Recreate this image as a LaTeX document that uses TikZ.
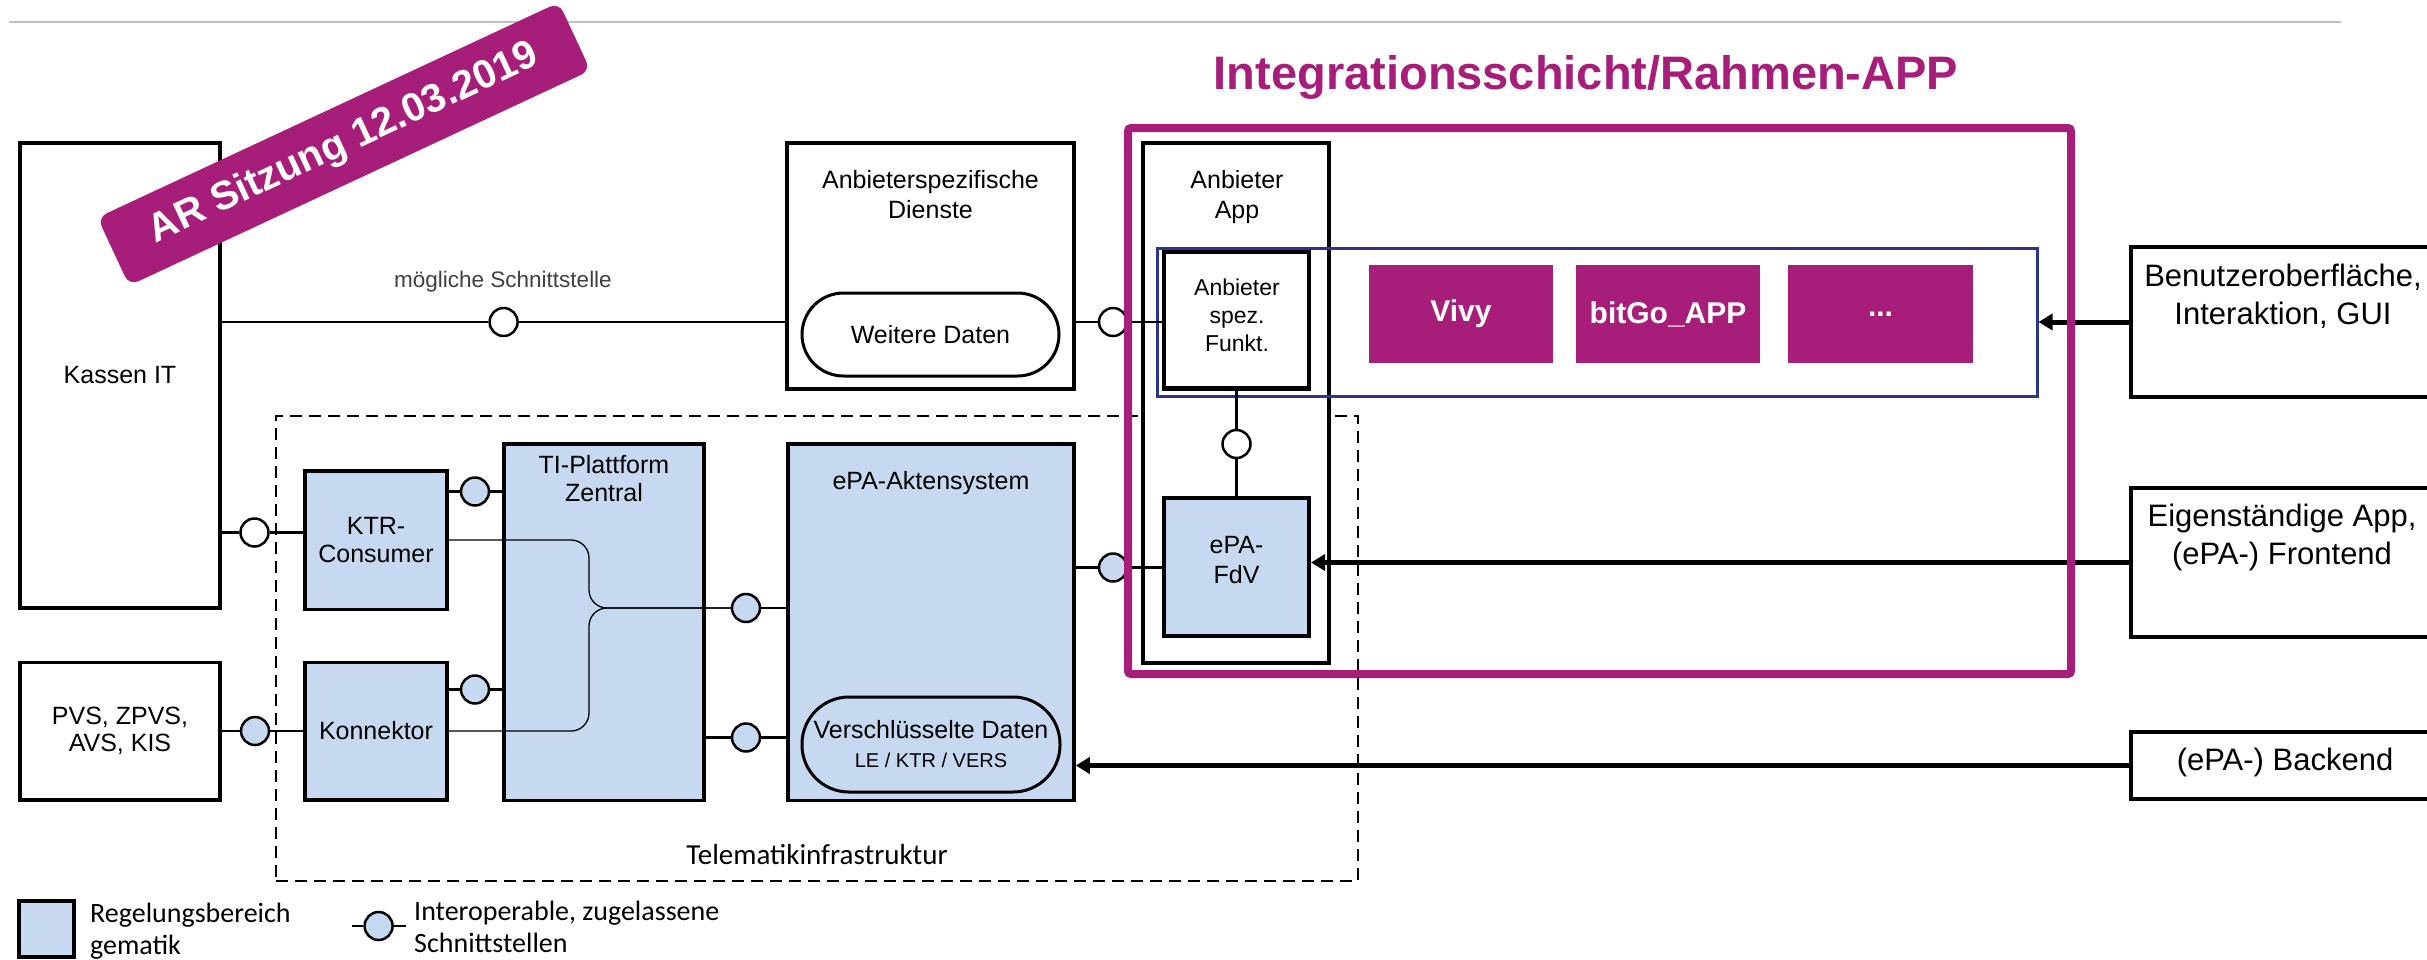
\documentclass[tikz,border=0pt]{standalone}
\usepackage{fontspec}
\setmainfont{Liberation Sans}
\newfontfamily\calib{Carlito}
\usetikzlibrary{arrows.meta}
\definecolor{gblue}{RGB}{198,217,240}
\definecolor{mag}{RGB}{166,30,122}
\definecolor{dblue}{RGB}{43,52,145}
\newcommand\fsz[2]{\fontsize{#1}{#2}\selectfont}
\tikzset{
 box/.style={draw, line width=3.5pt, fill=white, inner sep=0pt, align=center, font=\fsz{25}{30}},
 gbox/.style={box, fill=gblue},
 lbl/.style={align=center, inner sep=0pt, font=\fsz{25}{30}},
 iface/.style={circle, draw, line width=2.5pt, fill=white, minimum size=28pt, inner sep=0pt},
 giface/.style={iface, fill=gblue},
 conn/.style={line width=2.5pt},
 thinconn/.style={line width=1.3pt},
 arr/.style={line width=5pt, -{Triangle[length=14pt,width=16pt]}},
 appbox/.style={fill=mag, text=white, font=\bfseries\fsz{30}{36}, minimum width=184pt, minimum height=98pt, inner sep=0pt},
 legtext/.style={font=\calib\fsz{28}{32}, align=left, inner sep=0pt, anchor=west},
}
\begin{document}
\begin{tikzpicture}[x=1pt,y=-1pt]
\useasboundingbox (0,0) rectangle (2427,959);
\draw[black!25, line width=2pt] (9,22) -- (2341,22);
% Telematik area
\node[draw, line width=2.5pt, dash pattern=on 12pt off 7pt, minimum width=1082pt, minimum height=465pt] (tiarea) at (817,648.5) {};
\node[font=\calib\fsz{29}{34}, inner sep=0pt] (tilabel) at (817,854.5) {Telematikinfrastruktur};
% boxes
\node[box, minimum width=200pt, minimum height=465pt] (kassen) at (120,375.5) {Kassen IT};
\node[box, minimum width=200pt, minimum height=137.5pt, font=\fsz{25}{27}] (pvs) at (120,731) {PVS, ZPVS,\\AVS, KIS};
\node[gbox, minimum width=142pt, minimum height=138.5pt, font=\fsz{25}{28}] (ktr) at (376,540) {KTR-\\Consumer};
\node[gbox, minimum width=142pt, minimum height=137.5pt] (konn) at (376,731) {Konnektor};
\node[gbox, minimum width=200pt, minimum height=356.5pt] (ti) at (604,622) {};
\node[lbl, font=\fsz{25}{28}] (tilbl) at (604,479) {TI-Plattform\\Zentral};
\node[gbox, minimum width=286pt, minimum height=356.5pt] (akten) at (931,622) {};
\node[lbl] (aktenlbl) at (931,483) {ePA-Aktensystem};
\node[gbox, rounded corners=47pt, line width=3pt, minimum width=258pt, minimum height=95pt] (verschl) at (931,744.5) {Verschlüsselte Daten\\[-1pt]{\fsz{20}{24}LE / KTR / VERS}};
\node[box, minimum width=287pt, minimum height=246pt] (dienste) at (930.5,266) {};
\node[lbl] (dienstelbl) at (930.5,195) {Anbieterspezifische\\Dienste};
\node[box, rounded corners=41.5pt, line width=3pt, minimum width=257pt, minimum height=83pt] (weitere) at (930.5,334.5) {Weitere Daten};
\node[box, minimum width=186pt, minimum height=520pt] (app) at (1236,403) {};
\node[lbl] (applbl) at (1237,197) {Anbieter\\App};
\node[box, line width=4.5pt, minimum width=145pt, minimum height=136.5pt] (funkt) at (1236.5,320) {};
\node[lbl, font=\fsz{23}{28}] (funktlbl) at (1237,315) {Anbieter\\spez.\\Funkt.};
\node[gbox, line width=4pt, minimum width=145pt, minimum height=137.5pt] (fdv) at (1236.5,567) {};
\node[lbl] (fdvlbl) at (1236.5,560) {ePA-\\FdV};
\node[draw=dblue, line width=3pt, minimum width=880pt, minimum height=148pt, inner sep=0pt] (bluebox) at (1597,322) {};
\node[appbox] (vivy) at (1461,314) {Vivy};
\node[appbox] (bitgo) at (1668,314) {bitGo\_APP};
\node[appbox, minimum width=185pt] (more) at (1880.5,314) {...};
% right side
\node[box, minimum width=314pt, minimum height=150pt] (benutzer) at (2288,322) {};
\node[lbl, font=\fsz{31}{38}] (benutzerlbl) at (2283,296) {Benutzeroberfläche,\\Interaktion, GUI};
\node[box, minimum width=314pt, minimum height=149pt] (eigen) at (2288,562.5) {};
\node[lbl, font=\fsz{31}{38}] (eigenlbl) at (2282,537) {Eigenständige App,\\(ePA-) Frontend};
\node[box, minimum width=314pt, minimum height=67pt] (backend) at (2288,765.5) {};
\node[lbl, font=\fsz{31}{38}] (backendlbl) at (2285,762) {(ePA-) Backend};
% interfaces
\node[iface] (ifA) at (503.6,322) {};
\node[text=black!75, font=\fsz{22.5}{27}, inner sep=0pt] (moegl) at (503,282) {mögliche Schnittstelle};
\node[iface] (ifB) at (1113,322) {};
\node[iface] (ifC) at (1236.5,444) {};
\node[giface] (ifD) at (1113,567.5) {};
\node[iface] (ifK) at (254.5,532.5) {};
\node[giface] (ifP) at (255,731) {};
\node[giface] (ifT1) at (475,491.5) {};
\node[giface] (ifT2) at (475,689.5) {};
\node[giface] (ifE1) at (746,608) {};
\node[giface] (ifE2) at (746,737.5) {};
% connectors
\draw[conn] (kassen.east |- ifA) -- (ifA);
\draw[conn] (ifA) -- (dienste.west |- ifA);
\draw[conn] (dienste.east |- ifB) -- (ifB);
\draw[conn] (ifB) -- (funkt.west |- ifB);
\draw[conn] (funkt.south) -- (ifC);
\draw[conn] (ifC) -- (fdv.north);
\draw[conn] (akten.east |- ifD) -- (ifD);
\draw[conn] (ifD) -- (fdv.west |- ifD);
\draw[conn] (kassen.east |- ifK) -- (ifK);
\draw[conn] (ifK) -- (ktr.west |- ifK);
\draw[conn] (pvs.east |- ifP) -- (ifP);
\draw[conn] (ifP) -- (konn.west |- ifP);
\draw[conn] (ktr.east |- ifT1) -- (ifT1);
\draw[conn] (ifT1) -- (ti.west |- ifT1);
\draw[conn] (konn.east |- ifT2) -- (ifT2);
\draw[conn] (ifT2) -- (ti.west |- ifT2);
\draw[conn] (ifE1) -- (akten.west |- ifE1);
\draw[conn] (ti.east |- ifE2) -- (ifE2);
\draw[conn] (ifE2) -- (akten.west |- ifE2);
\coordinate (merge) at (589,608);
\draw[thinconn, rounded corners=18pt] (ktr.east) -| (merge) -- (ifE1);
\draw[thinconn, rounded corners=18pt] (konn.east) -| (merge) -- (ifE1);
% arrows
\draw[arr] (benutzer.west) -- (bluebox.east);
\draw[arr] (eigen.west) -- (fdv.east |- eigen.west);
\draw[arr] (backend.west) -- (akten.east |- backend.west);
% integration layer
\node[draw=mag, line width=8pt, rounded corners=3pt, minimum width=943pt, minimum height=546pt] (integ) at (1599.5,401) {};
\node[text=mag, font=\bfseries\fsz{47}{56}, inner sep=0pt] (title) at (1586,77) {Integrationsschicht/Rahmen-APP};
% banner
\node[fill=mag, rounded corners=10pt, rotate=25, minimum width=509pt, minimum height=75pt, text=white, font=\bfseries\fsz{40}{48}, inner sep=0pt] (banner) at (344,144) {AR Sitzung 12.03.2019};
% legend
\node[gbox, minimum width=55pt, minimum height=56pt] (leg1) at (46.5,929) {};
\node[legtext] (leg1txt) at (90,931) {Regelungsbereich\\gematik};
\coordinate (l2a) at (352,926);
\coordinate (l2b) at (405.6,926);
\node[giface] (leg2) at (378.6,926) {};
\draw[conn] (l2a) -- (leg2);
\draw[conn] (leg2) -- (l2b);
\node[legtext] (leg2txt) at (414,927) {Interoperable, zugelassene\\Schnittstellen};
\end{tikzpicture}
\end{document}
